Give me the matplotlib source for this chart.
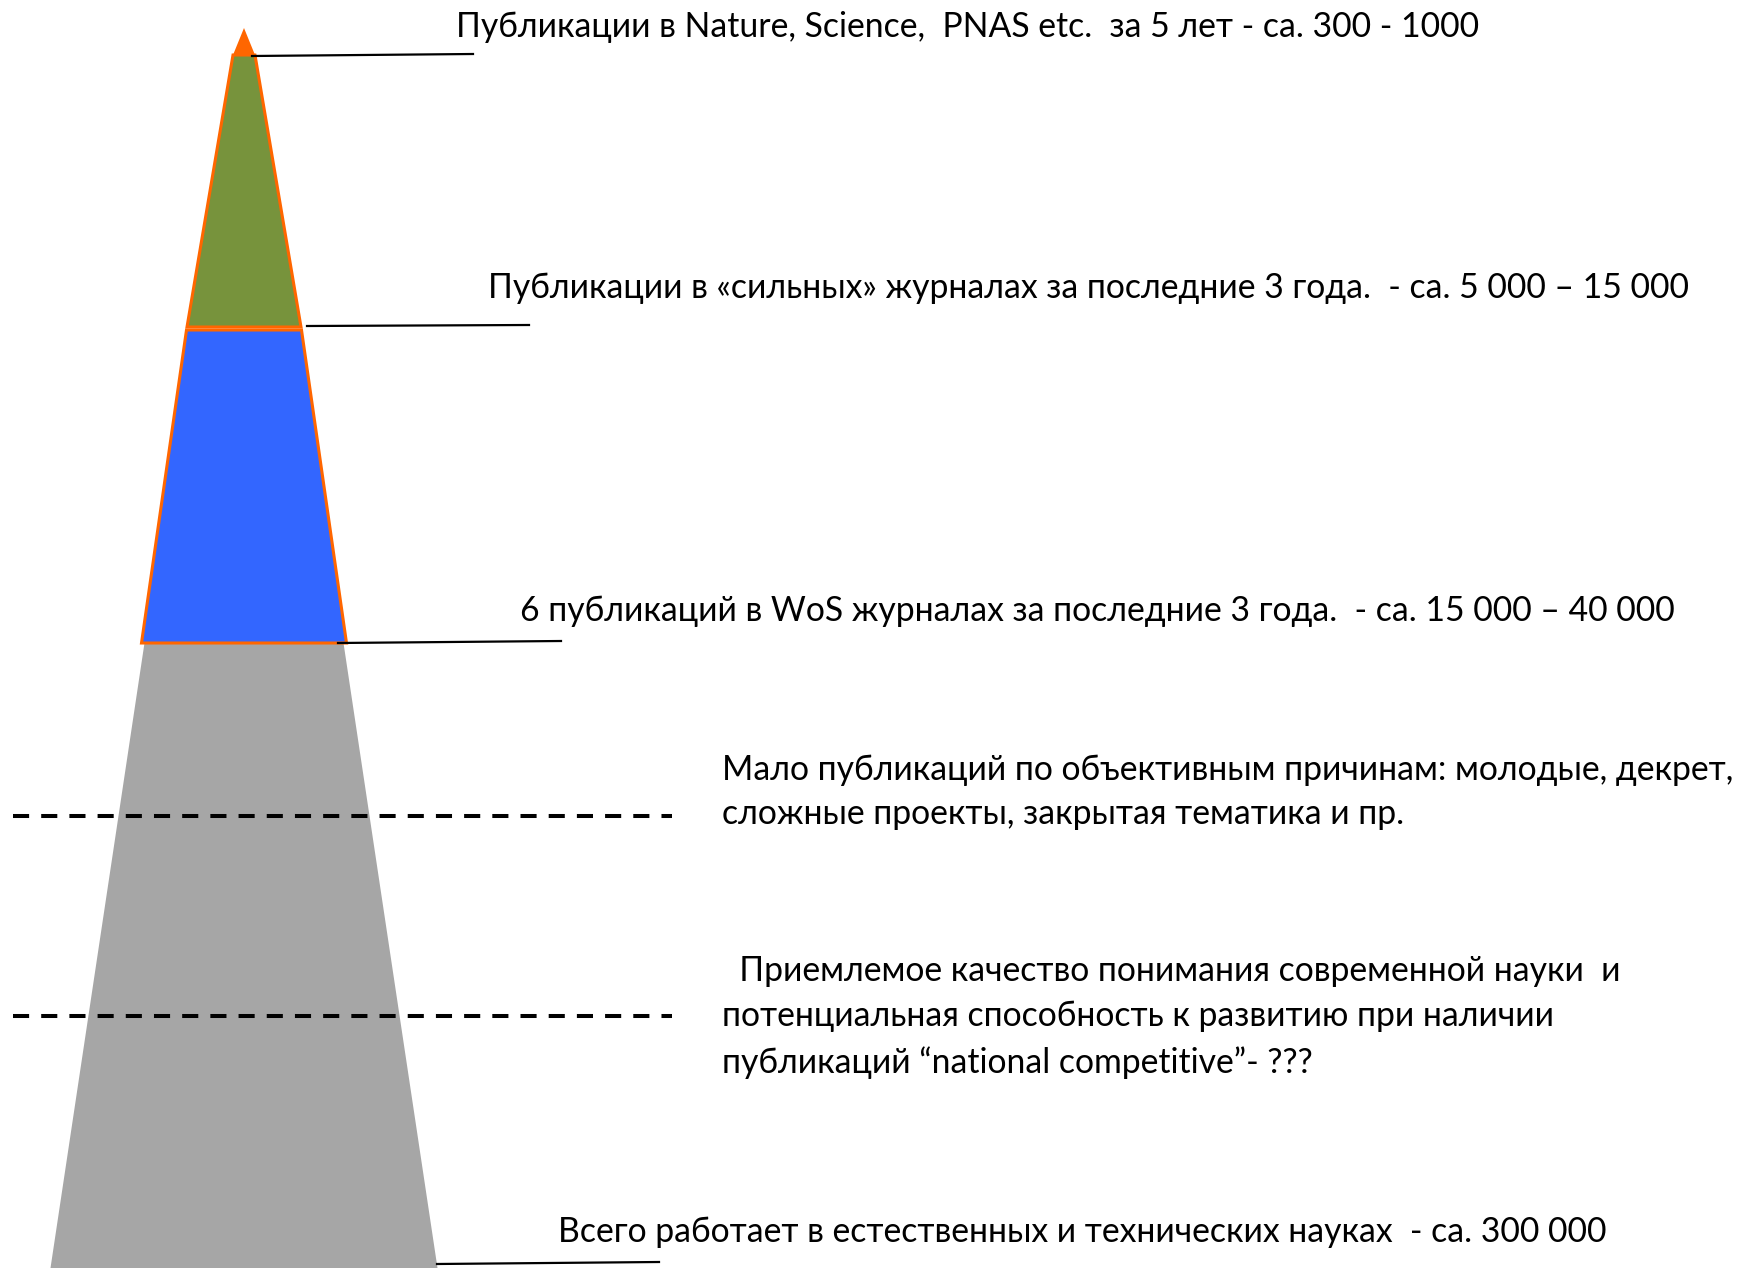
import matplotlib
matplotlib.use("Agg")
import matplotlib.pyplot as plt
from matplotlib.patches import Polygon

plt.rcParams['font.family'] = ['Lato', 'DejaVu Sans']

# canvas in pixel units (y grows downward)
W, H = 1756, 1268
cx = 244

# pyramid layers: top y, bottom y, top width, bottom width
layer_names = ["apex", "nature", "strong", "wos"]
layer_top = [28, 55, 330, 643]
layer_bottom = [55, 327, 643, 1268]
layer_wtop = [0, 22, 115, 199]
layer_wbot = [22, 114, 205, 387]
layer_color = ["#FF6600", "#77933C", "#3366FF", "#A6A6A6"]
layer_edge = [None, "#FF6600", "#FF6600", None]

# leader lines: y at pyramid, y at end, x start, x end
leader_x0 = [252, 307, 338, 437]
leader_x1 = [473, 529, 561, 659]
leader_y0 = [56, 326, 643, 1264]
leader_y1 = [54, 325, 641, 1262]

dash_y = [816, 1016]
dash_x = [13, 672]

labels = [
    "Публикации в Nature, Science,  PNAS etc.  за 5 лет - са. 300 - 1000",
    "Публикации в «сильных» журналах за последние 3 года.  - са. 5 000 – 15 000",
    "6 публикаций в WoS журналах за последние 3 года.  - са. 15 000 – 40 000",
    "Мало публикаций по объективным причинам: молодые, декрет,\nсложные проекты, закрытая тематика и пр.",
    "  Приемлемое качество понимания современной науки  и\nпотенциальная способность к развитию при наличии\nпубликаций “national competitive”- ???",
    "Всего работает в естественных и технических науках  - са. 300 000",
]
label_x = [456, 488, 520, 722, 722, 558]
label_y = [27, 288, 611, 792, 1017, 1232]

fig = plt.figure(figsize=(W / 100, H / 100), dpi=100)
ax = fig.add_axes([0, 0, 1, 1])
ax.set_xlim(0, W)
ax.set_ylim(H, 0)
ax.axis("off")

# draw bottom layer first so the coloured layers sit on top
for i in reversed(range(len(layer_names))):
    t, b = layer_top[i], layer_bottom[i]
    wt, wb = layer_wtop[i] / 2, layer_wbot[i] / 2
    pts = [(cx - wt, t), (cx + wt, t), (cx + wb, b), (cx - wb, b)]
    ec = layer_edge[i] if layer_edge[i] else "none"
    ax.add_patch(Polygon(pts, closed=True, facecolor=layer_color[i],
                         edgecolor=ec, linewidth=2.2, zorder=2 + (3 - i)))

for x0, x1, y0, y1 in zip(leader_x0, leader_x1, leader_y0, leader_y1):
    ax.plot([x0, x1], [y0, y1], color="black", linewidth=1.6, zorder=10)

for y in dash_y:
    ax.plot(dash_x, [y, y], color="black", linewidth=2.9, dashes=(4, 3), zorder=10)

for txt, x, y in zip(labels, label_x, label_y):
    ax.text(x, y, txt, fontsize=24.3, va="center", ha="left",
            linespacing=1.5, color="black", zorder=11)

fig.savefig("out.png", dpi=100)
